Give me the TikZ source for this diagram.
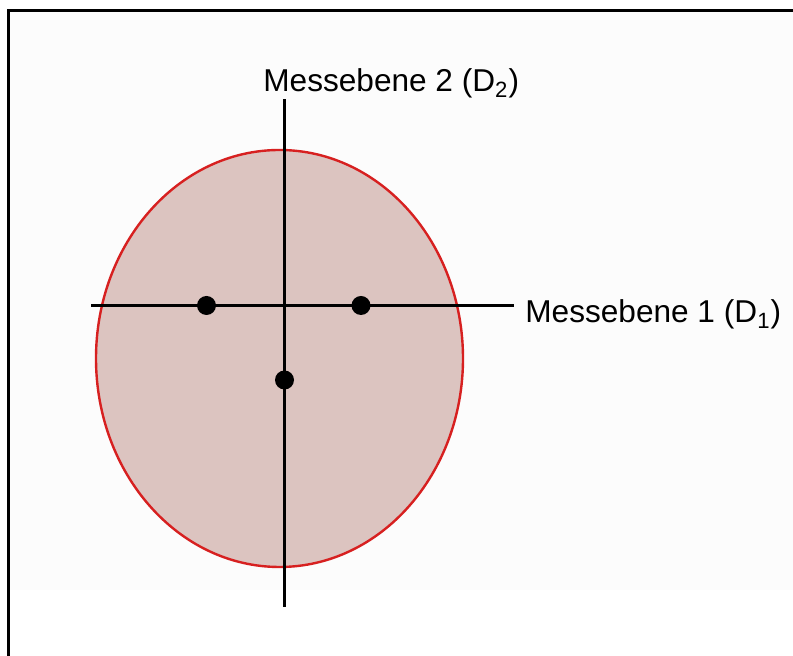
\documentclass[tikz,border=0pt]{standalone}
\usepackage{fontspec}
\setmainfont{Liberation Sans}
\usetikzlibrary{shapes.geometric,positioning}
\definecolor{probefill}{RGB}{220,196,192}
\definecolor{proberim}{RGB}{215,32,32}
\definecolor{paper}{RGB}{252,252,252}

\begin{document}
\begin{tikzpicture}[
  x=0.5pt,y=-0.5pt,
  probe/.style={ellipse,draw=proberim,line width=1.2pt,fill=probefill,
    minimum width=183.5pt,minimum height=208.5pt,inner sep=0pt},
  axis/.style={line width=1.25pt,black},
  spot/.style={circle,fill=black,minimum size=9.5pt,inner sep=0pt},
  plane/.style={inner sep=0pt,font=\fontsize{15.8}{19}\selectfont}
]
  \useasboundingbox (0,0) rectangle (793,656);
  \fill[paper] (10,12) rectangle (793,590);

  \node[probe] (body) at (279.5,358.5) {};

  \node[plane,anchor=base west] (d2) at (263,92) {Messebene 2 (D\textsubscript{2})};
  \node[plane,anchor=base west] (d1) at (525,323) {Messebene 1 (D\textsubscript{1})};

  \coordinate (vend) at (284.5,607);
  \coordinate (hend) at (91,305.5);
  \draw[axis] (vend) -- (vend |- d2.south);
  \draw[axis] (hend) -- ([xshift=-5.5pt]d1.west |- hend);

  \node[spot] (left) at (206.5,305.5) {};
  \node[spot] (right) at (361,305.5) {};
  \node[spot] (lower) at (284.5,380) {};

  % frame, cut off at the right and bottom
  \draw[line width=1.75pt] (793,10.5) -- (8.5,10.5) -- (8.5,656);
\end{tikzpicture}
\end{document}
